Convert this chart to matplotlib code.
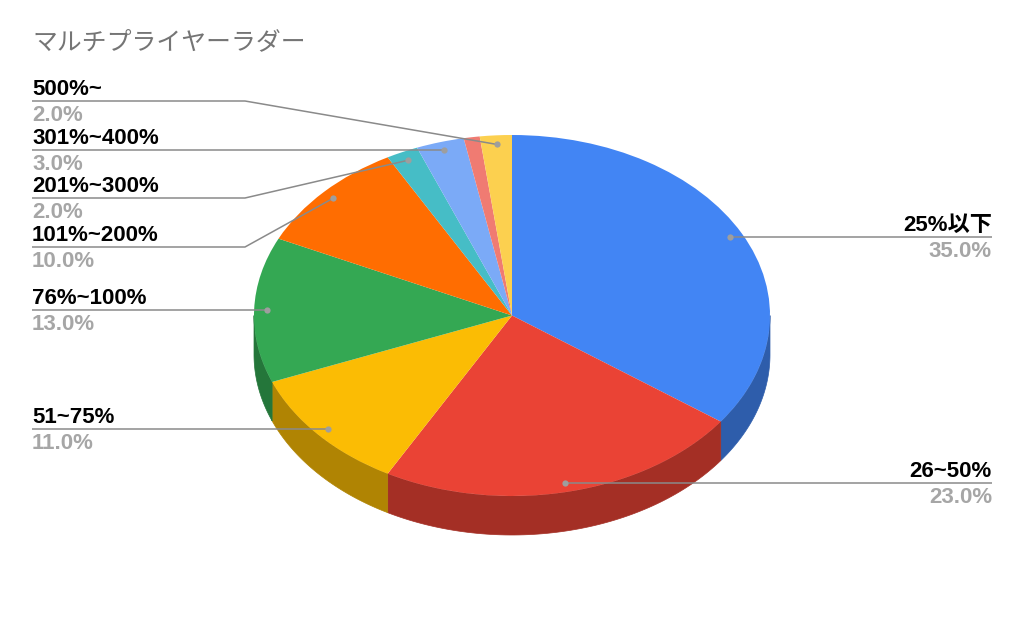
import numpy as np
import matplotlib
matplotlib.use("Agg")
import matplotlib.pyplot as plt
import matplotlib.colors as mcolors

plt.rcParams['font.family'] = ['Liberation Sans', 'Noto Sans CJK JP']

title = "マルチプライヤーラダー"
# order on the chart: blue, red, yellow, green, orange, teal, light blue, pink, light yellow
categories = ["25%以下", "26~50%", "51~75%", "76%~100%", "101%~200%", "201%~300%", "301%~400%", "", "500%~"]
values = [35, 23, 11, 13, 10, 2, 3, 1, 2]
colors = ["#4285f4", "#ea4335", "#fbbc04", "#34a853", "#ff6d01", "#46bdc6", "#7baaf7", "#f07b72", "#fcd04f"]

# pie geometry in pixels
cx, cy = 512, 315.5
rx, ry = 258, 180.5
depth = 39

# category -> (side, y of leader line, x of elbow or None)
leaders = {
    "25%以下": ("right", 237, None),
    "26~50%": ("right", 483, None),
    "51~75%": ("left", 429, None),
    "76%~100%": ("left", 310, None),
    "101%~200%": ("left", 247, 245),
    "201%~300%": ("left", 198, 245),
    "301%~400%": ("left", 150, None),
    "500%~": ("left", 101, 245),
}

fig = plt.figure(figsize=(10.24, 6.24), dpi=100)
ax = fig.add_axes([0, 0, 1, 1])

# side walls, only the front half of the pie shows them
edges = np.concatenate([[0], np.cumsum(values)]) * 3.6
for i in range(len(values)):
    t0, t1 = max(edges[i], 90), min(edges[i + 1], 270)
    if t1 <= t0:
        continue
    t = np.radians(np.linspace(t0, t1, 80))
    xs = np.sin(t)
    ys = np.cos(t)
    d = depth / ry
    ax.fill(np.r_[xs, xs[::-1]], np.r_[ys, ys[::-1] - d],
            color=tuple(c * 0.7 for c in mcolors.to_rgb(colors[i])), lw=0.5)

ax.pie(values, colors=colors, startangle=90, counterclock=False, wedgeprops={"linewidth": 0})
ax.set_aspect("auto")
ax.set_xlim(-cx / rx, (1024 - cx) / rx)
ax.set_ylim((cy - 624) / ry, cy / ry)
ax.axis("off")

# overlay in pixel coordinates for the labels
ov = fig.add_axes([0, 0, 1, 1], facecolor="none")
ov.set_xlim(0, 1024)
ov.set_ylim(624, 0)
ov.axis("off")

ov.text(32, 49, title, fontsize=17.9, color="#757575", family=['Noto Sans CJK JP'], va="baseline")

for i, name in enumerate(categories):
    if name == "":
        continue
    side, ly, elbow = leaders[name]
    mid = np.radians((edges[i] + edges[i + 1]) / 2)
    dx = cx + 0.95 * rx * np.sin(mid)
    dy = cy - 0.95 * ry * np.cos(mid)
    x_end = 32 if side == "left" else 992
    if elbow is None:
        px, py = [x_end, dx], [ly, ly]
    else:
        px, py = [x_end, elbow, dx], [ly, ly, dy]
    ov.plot(px, py, color="#8a8a8a", lw=1.1, solid_capstyle="butt")
    ov.plot([px[-1]], [py[-1]], "o", color="#9e9e9e", ms=4.5, mew=0)
    ha = "left" if side == "left" else "right"
    ov.text(x_end, ly - 6, name, fontsize=16, fontweight="bold", color="#000000", ha=ha, va="baseline")
    ov.text(x_end, ly + 20, "%.1f%%" % values[i], fontsize=16, fontweight="bold", color="#a6a6a6", ha=ha, va="baseline")

fig.savefig("out.png", dpi=100, facecolor="white")
